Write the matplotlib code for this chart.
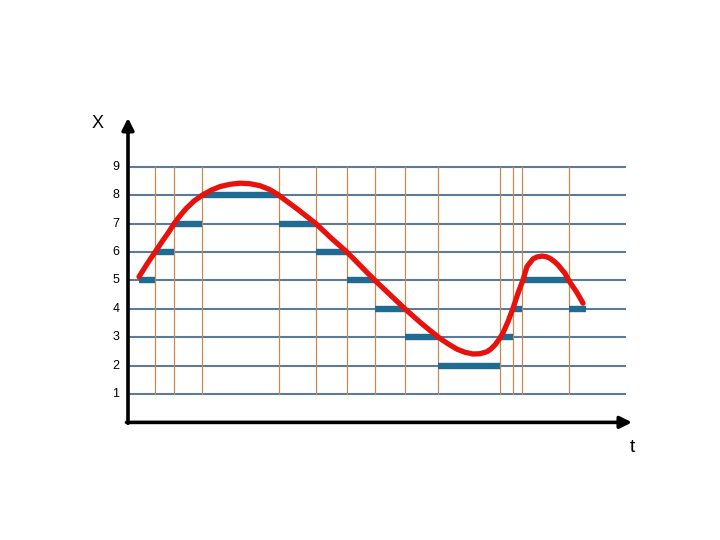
import matplotlib
matplotlib.use("Agg")
import matplotlib.pyplot as plt

# Levels (horizontal reference lines)
levels = [1, 2, 3, 4, 5, 6, 7, 8, 9]
level_labels = ["1", "2", "3", "4", "5", "6", "7", "8", "9"]

# Times where the signal crosses a level (vertical lines), t measured from the axis
cross_t = [27, 46, 74, 151, 188, 219, 247, 277, 310, 372, 385, 394, 441]

# Quantized (held) segments: start, end, level
seg_start = [11, 27, 46, 74, 151, 188, 219, 247, 277, 310, 372, 385, 394, 441]
seg_end = [27, 46, 74, 151, 188, 219, 247, 277, 310, 372, 385, 394, 441, 458]
seg_level = [5, 6, 7, 8, 7, 6, 5, 4, 3, 2, 3, 4, 5, 4]

# Continuous signal
sig_t = [11, 19, 27, 35, 41, 46, 52, 58, 66, 74, 83, 92, 102, 112, 122, 132, 142,
         151, 160, 170, 188, 203, 219, 233, 247, 262, 277, 293, 302, 312, 320,
         329, 337, 345, 352, 359, 363, 367, 371, 375, 380, 385, 390, 395, 399,
         405, 409, 414, 418, 422, 426, 430, 437, 441, 449, 455]
sig_v = [5.13, 5.58, 6.00, 6.42, 6.72, 7.00, 7.28, 7.53, 7.80, 8.00, 8.18, 8.31, 8.39, 8.43, 8.41, 8.34, 8.20,
         8.00, 7.76, 7.50, 7.00, 6.50, 6.00, 5.50, 5.00, 4.50, 4.00, 3.50, 3.24, 2.96, 2.77,
         2.58, 2.47, 2.41, 2.42, 2.49, 2.59, 2.73, 2.92, 3.15, 3.55, 4.02, 4.55, 5.02, 5.49,
         5.76, 5.83, 5.86, 5.84, 5.78, 5.68, 5.55, 5.25, 4.99, 4.57, 4.20]

t_axis_end = 504
v_axis_end = 10.73
grid_end = 498

fig = plt.figure(figsize=(7.2, 5.4), dpi=100)
ax = fig.add_axes([0, 0, 1, 1])
ax.set_xlim(-128, 592)
ax.set_ylim(-4.145, 14.885)
ax.axis("off")

grid_color = "#5b7b99"
vline_color = "#c98a52"
seg_color = "#1f6b92"
sig_color = "#e8120c"

for lv in levels:
    ax.plot([0, grid_end], [lv, lv], color=grid_color, lw=1.5, zorder=1,
            solid_capstyle="butt")

for tc in cross_t:
    ax.plot([tc, tc], [levels[0], levels[-1]], color=vline_color, lw=0.9, zorder=2)

for s, e, lv in zip(seg_start, seg_end, seg_level):
    ax.plot([s, e], [lv, lv], color=seg_color, lw=4.6, zorder=3,
            solid_capstyle="butt")

ax.plot(sig_t, sig_v, color=sig_color, lw=3.8, zorder=4,
        solid_capstyle="round", solid_joinstyle="round")

# Axes with arrows
ax.annotate("", xy=(0, v_axis_end), xytext=(0, -0.03),
            arrowprops=dict(arrowstyle="-|>,head_length=0.7,head_width=0.35",
                            color="black", lw=2.6, shrinkA=0, shrinkB=0), zorder=5)
ax.annotate("", xy=(t_axis_end, 0), xytext=(-1.5, 0),
            arrowprops=dict(arrowstyle="-|>,head_length=0.7,head_width=0.35",
                            color="black", lw=2.6, shrinkA=0, shrinkB=0), zorder=5)

fam = ["Liberation Sans", "DejaVu Sans"]
for lv, lab in zip(levels, level_labels):
    ax.text(-12, lv, lab, ha="center", va="center", fontsize=9, family=fam)

ax.text(-30, 10.55, "X", ha="center", va="center", fontsize=13, family=fam)
ax.text(504, -0.9, "t", ha="center", va="center", fontsize=14, family=fam)

fig.savefig("out.png", dpi=100)
